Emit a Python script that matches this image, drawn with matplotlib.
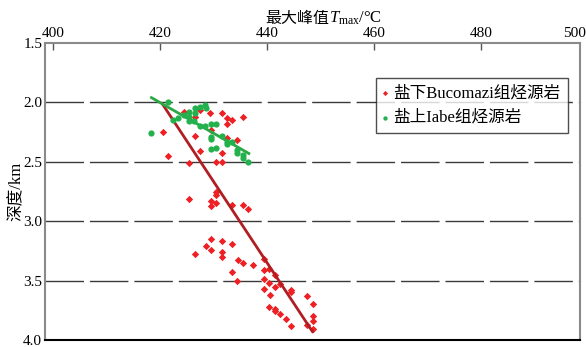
import numpy as np
import matplotlib
matplotlib.use("Agg")
import matplotlib.pyplot as plt
import matplotlib.transforms as mtransforms

plt.rcParams['font.family'] = ['Liberation Serif', 'Noto Sans CJK SC']
plt.rcParams['mathtext.fontset'] = 'custom'
plt.rcParams['mathtext.rm'] = 'Liberation Serif'
plt.rcParams['mathtext.it'] = 'Liberation Serif:italic'

# 盐下Bucomazi组烃源岩 (Tmax, depth)
red_tmax = [424.5, 427.5, 429.3, 431.5, 435.5, 432.5, 433.4, 432.5, 426.5, 420.5,
            426.5, 429.5, 432.5, 434.4, 427.5, 431.5, 421.5, 425.5, 430.5, 431.5,
            425.5, 430.5, 430.5, 429.5, 429.5, 430.5, 433.4, 435.5, 436.4,
            429.5, 428.5, 429.5, 431.5, 433.5, 431.5, 431.5, 426.5, 434.5, 435.5,
            437.4, 439.5, 439.5, 440.4, 433.5, 434.4, 441.5, 439.5, 440.4, 441.5,
            439.5, 440.5, 444.4, 444.4, 442.4, 447.4, 448.5, 440.4, 441.5, 441.5,
            442.4, 443.5, 444.4, 447.4, 448.5, 448.5, 448.5]
red_depth = [2.08, 2.06, 2.09, 2.09, 2.12, 2.13, 2.15, 2.18, 2.12, 2.25,
             2.28, 2.23, 2.30, 2.32, 2.41, 2.43, 2.45, 2.51, 2.50, 2.50,
             2.81, 2.75, 2.78, 2.83, 2.87, 2.85, 2.86, 2.86, 2.90,
             3.15, 3.21, 3.24, 3.17, 3.19, 3.26, 3.30, 3.28, 3.33, 3.35,
             3.37, 3.32, 3.41, 3.40, 3.43, 3.50, 3.45, 3.49, 3.52, 3.55,
             3.57, 3.62, 3.58, 3.60, 3.53, 3.63, 3.70, 3.72, 3.74, 3.76,
             3.78, 3.82, 3.88, 3.87, 3.80, 3.84, 3.91]

# 盐上Iabe组烃源岩
green_tmax = [421.5, 418.4, 422.5, 423.4, 424.4, 425.5, 426.5, 427.5, 428.4, 428.6,
              425.5, 425.5, 426.5, 426.4, 427.5, 428.4, 429.5, 430.5, 429.5, 429.5,
              431.5, 430.5, 429.5, 432.5, 433.4, 432.5, 434.4, 434.4, 435.5, 435.5,
              436.4]
green_depth = [2.00, 2.26, 2.15, 2.13, 2.11, 2.08, 2.05, 2.04, 2.02, 2.05,
               2.12, 2.16, 2.09, 2.16, 2.20, 2.20, 2.18, 2.18, 2.29, 2.31,
               2.28, 2.38, 2.39, 2.33, 2.33, 2.35, 2.40, 2.43, 2.44, 2.47,
               2.50]

# trend lines
red_fit_x = [420.4, 448.5]
red_fit_y = [2.01, 3.93]
green_fit_x = [418.4, 436.6]
green_fit_y = [1.96, 2.43]

grid_depths = [2.0, 2.5, 3.0, 3.5]
x_ticks = [400, 420, 440, 460, 480]

fig = plt.figure(figsize=(5.86, 3.47), dpi=100)
ax = fig.add_axes([45 / 586, 7 / 347, 535 / 586, 297 / 347])

for d in grid_depths:
    ax.axhline(d, color='#3a3a3a', lw=1.0, linestyle=(0, (27.7, 4.3)), zorder=1)

ax.plot(red_fit_x, red_fit_y, color='#b01e23', lw=2.0, zorder=3)
ax.plot(green_fit_x, green_fit_y, color='#2aa844', lw=2.0, zorder=3)
ax.scatter(red_tmax, red_depth, marker='D', s=14, color='#ee2024', lw=0,
           zorder=2, label='盐下Bucomazi组烃源岩')
ax.scatter(green_tmax, green_depth, marker='o', s=20, color='#22b14c', lw=0,
           zorder=4, label='盐上Iabe组烃源岩')

ax.set_xlim(398.5, 498.5)
ax.set_ylim(4.0, 1.5)
ax.set_xticks(x_ticks)
ax.set_yticks(np.arange(1.5, 4.01, 0.5))
ax.set_yticklabels(['1.5', '2.0', '2.5', '3.0', '3.5', '4.0'])
ax.xaxis.tick_top()
ax.tick_params(axis='x', direction='in', length=5, width=1, color='#555555',
               labelsize=11, pad=2)
ax.tick_params(axis='y', length=0, labelsize=11, pad=2)
# last label sits on the right edge of the frame
ax.text(0.99, 1.0, '500', transform=ax.transAxes + mtransforms.ScaledTranslation(0, 2 / 72, fig.dpi_scale_trans),
        ha='center', va='bottom', fontsize=11)

# x label: CJK part and math part drawn side by side
fig.text(329 / 586, 1 - 23 / 347, '最大峰值', ha='right', va='baseline', fontsize=11.5)
fig.text(329 / 586, 1 - 23 / 347, '$T_{\\rm max}$/°C', ha='left', va='baseline', fontsize=12)
ax.set_ylabel('深度/km', fontsize=12, labelpad=-1)

for side in ['top', 'left', 'right']:
    ax.spines[side].set_color('#8a8a8a')
    ax.spines[side].set_linewidth(1.5)
ax.spines['bottom'].set_color('black')
ax.spines['bottom'].set_linewidth(1.5)

leg = ax.legend(loc='upper right', bbox_to_anchor=(0.978, 0.882), fontsize=12,
                frameon=True, fancybox=False, edgecolor='#222222',
                borderaxespad=0, handletextpad=0.4, handlelength=0.2,
                markerscale=0.7, borderpad=0.45, labelspacing=0.5)
leg.get_frame().set_linewidth(1.0)

plt.savefig('out.png', dpi=100)
